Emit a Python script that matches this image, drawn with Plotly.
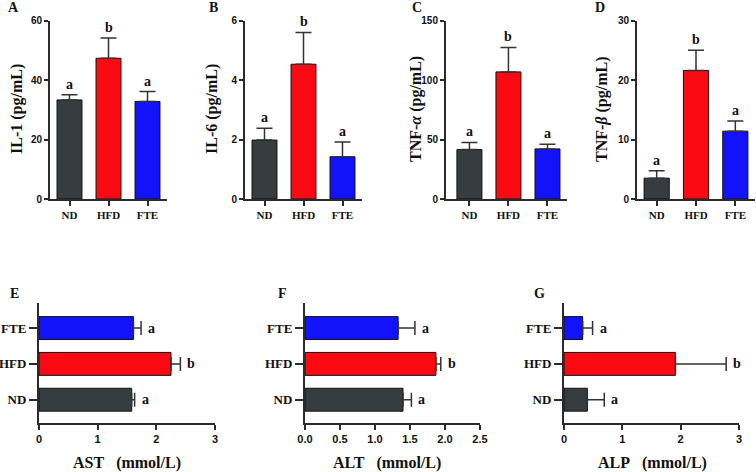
import plotly.graph_objects as go

groups = ["ND", "HFD", "FTE"]
colors = ["#363d41", "#fb0a14", "#1212fb"]

# top panels (vertical bars)
il1_mean = [33.3, 47.3, 32.8]
il1_err = [1.7, 6.8, 3.3]
il6_mean = [1.98, 4.53, 1.42]
il6_err = [0.40, 1.07, 0.50]
tnfa_mean = [41.5, 106.8, 42.1]
tnfa_err = [6.0, 20.6, 4.0]
tnfb_mean = [3.5, 21.6, 11.4]
tnfb_err = [1.25, 3.4, 1.7]
top_letters = [["a", "b", "a"], ["a", "b", "a"], ["a", "b", "a"], ["a", "b", "a"]]

# bottom panels (horizontal bars)
ast_mean = [1.58, 2.25, 1.61]
ast_err = [0.05, 0.16, 0.13]
alt_mean = [1.40, 1.87, 1.33]
alt_err = [0.12, 0.07, 0.24]
alp_mean = [0.40, 1.91, 0.32]
alp_err = [0.29, 0.87, 0.17]
bot_letters = [["a", "b", "a"], ["a", "b", "a"], ["a", "b", "a"]]

W, H = 756, 472
SERIF = "Liberation Serif"
SANS = "Liberation Sans"
AXC = "#2b2b2b"
NB = "\u00a0"

fig = go.Figure()

def px_x(a, b):
    return [a / W, b / W]

def px_y(top, bottom):
    return [1 - bottom / H, 1 - top / H]

top_specs = [
    (il1_mean, il1_err, [0, 60], 20, (50, 167), [-0.5, 2.5], "IL-1 (pg/mL)", "A", 13, 17),
    (il6_mean, il6_err, [0, 6], 2, (245, 362), [-0.5, 2.5], "IL-6 (pg/mL)", "B", 213, 212),
    (tnfa_mean, tnfa_err, [0, 150], 50, (446, 567), [-0.6, 2.5], "TNF-<i>α</i> (pg/mL)", "C", 417, 416),
    (tnfb_mean, tnfb_err, [0, 30], 10, (637, 755), [-0.5, 2.5], "TNF-<i>β</i> (pg/mL)", "D", 600, 602),
]

annotations = []
layout_axes = {}
idx = 1
for k, (mean, err, yr, dt, (x0, x1), xr, ytitle, lab, labx, titx) in enumerate(top_specs):
    xa = "x" if idx == 1 else f"x{idx}"
    ya = "y" if idx == 1 else f"y{idx}"
    fig.add_trace(go.Bar(
        x=groups, y=mean, xaxis=xa, yaxis=ya,
        marker=dict(color=colors, line=dict(color="#111", width=1)),
        width=0.64,
        error_y=dict(type="data", array=err, arrayminus=[0, 0, 0], symmetric=False,
                     color="#333", thickness=1.5, width=8),
        showlegend=False,
    ))
    sfx = "" if idx == 1 else str(idx)
    layout_axes[f"xaxis{sfx}"] = dict(
        domain=px_x(x0, x1), range=xr, anchor=ya, type="category", automargin=False,
        showline=True, linecolor=AXC, linewidth=2, ticks="outside", ticklen=5,
        tickwidth=2, tickcolor=AXC, showgrid=False, zeroline=False,
        tickfont=dict(family=SERIF, size=11, color="#111", weight="bold"),
    )
    layout_axes[f"yaxis{sfx}"] = dict(
        domain=px_y(20.5, 199), range=yr, dtick=dt, anchor=xa, automargin=False,
        showline=True, linecolor=AXC, linewidth=2, ticks="outside", ticklen=4,
        tickwidth=2, tickcolor=AXC, showgrid=False, zeroline=False,
        tickfont=dict(family=SANS, size=10, color="#111", weight="bold"),
    )
    for g, m, e, t in zip(groups, mean, err, top_letters[k]):
        annotations.append(dict(x=g, y=m + e, xref=xa, yref=ya, text=t, showarrow=False,
                                yanchor="bottom", yshift=1,
                                font=dict(family=SERIF, size=14, color="#111", weight="bold")))
    annotations.append(dict(x=labx / W, y=1 - 8 / H, xref="paper", yref="paper", text=lab,
                            showarrow=False, xanchor="center", yanchor="middle",
                            font=dict(family=SERIF, size=14, color="#111", weight="bold")))
    annotations.append(dict(x=titx / W, y=1 - 109 / H, xref="paper", yref="paper", text=ytitle,
                            showarrow=False, textangle=-90, xanchor="center", yanchor="middle",
                            font=dict(family=SERIF, size=16, color="#111", weight="bold")))
    idx += 1

bot_specs = [
    (ast_mean, ast_err, [0, 3], 1, (39, 215), "AST" + NB * 3 + "(mmol/L)", "E", 14, 127),
    (alt_mean, alt_err, [0, 2.5], 0.5, (305, 480), "ALT" + NB * 3 + "(mmol/L)", "F", 282, 387),
    (alp_mean, alp_err, [0, 3], 1, (564, 739), "ALP" + NB * 3 + "(mmol/L)", "G", 539, 652),
]
for k, (mean, err, xr, dt, (x0, x1), xtitle, lab, labx, titx) in enumerate(bot_specs):
    xa = f"x{idx}"
    ya = f"y{idx}"
    fig.add_trace(go.Bar(
        y=groups, x=mean, xaxis=xa, yaxis=ya, orientation="h",
        marker=dict(color=colors, line=dict(color="#111", width=1)),
        width=0.64,
        error_x=dict(type="data", array=err, arrayminus=[0, 0, 0], symmetric=False,
                     color="#333", thickness=1.5, width=7),
        showlegend=False,
    ))
    sfx = str(idx)
    layout_axes[f"xaxis{sfx}"] = dict(
        domain=px_x(x0, x1), range=xr, dtick=dt, anchor=ya, automargin=False,
        tickformat=".1f" if dt == 0.5 else "d",
        showline=True, linecolor=AXC, linewidth=2, ticks="outside", ticklen=5,
        tickwidth=2, tickcolor=AXC, showgrid=False, zeroline=False,
        tickfont=dict(family=SANS, size=11, color="#111", weight="bold"),
    )
    layout_axes[f"yaxis{sfx}"] = dict(
        domain=px_y(303, 423), range=[-0.65, 2.7], anchor=xa, type="category",
        automargin=False,
        showline=True, linecolor=AXC, linewidth=2, ticks="outside", ticklen=8,
        tickwidth=2, tickcolor=AXC, showgrid=False, zeroline=False,
        tickfont=dict(family=SERIF, size=13, color="#111", weight="bold"),
    )
    for g, m, e, t in zip(groups, mean, err, bot_letters[k]):
        annotations.append(dict(x=m + e, y=g, xref=xa, yref=ya, text=t, showarrow=False,
                                xanchor="left", xshift=5,
                                font=dict(family=SERIF, size=14, color="#111", weight="bold")))
    annotations.append(dict(x=labx / W, y=1 - 293 / H, xref="paper", yref="paper", text=lab,
                            showarrow=False, xanchor="center", yanchor="middle",
                            font=dict(family=SERIF, size=14, color="#111", weight="bold")))
    annotations.append(dict(x=titx / W, y=1 - 463 / H, xref="paper", yref="paper", text=xtitle,
                            showarrow=False, xanchor="center", yanchor="middle",
                            font=dict(family=SERIF, size=16, color="#111", weight="bold")))
    idx += 1

fig.update_layout(
    width=W, height=H, margin=dict(l=0, r=0, t=0, b=0, pad=0),
    paper_bgcolor="white", plot_bgcolor="white",
    annotations=annotations, bargap=0.36,
    **layout_axes,
)

fig.write_html("out.html", config={"displayModeBar": False},
               post_script="document.body.style.margin='0px';")
